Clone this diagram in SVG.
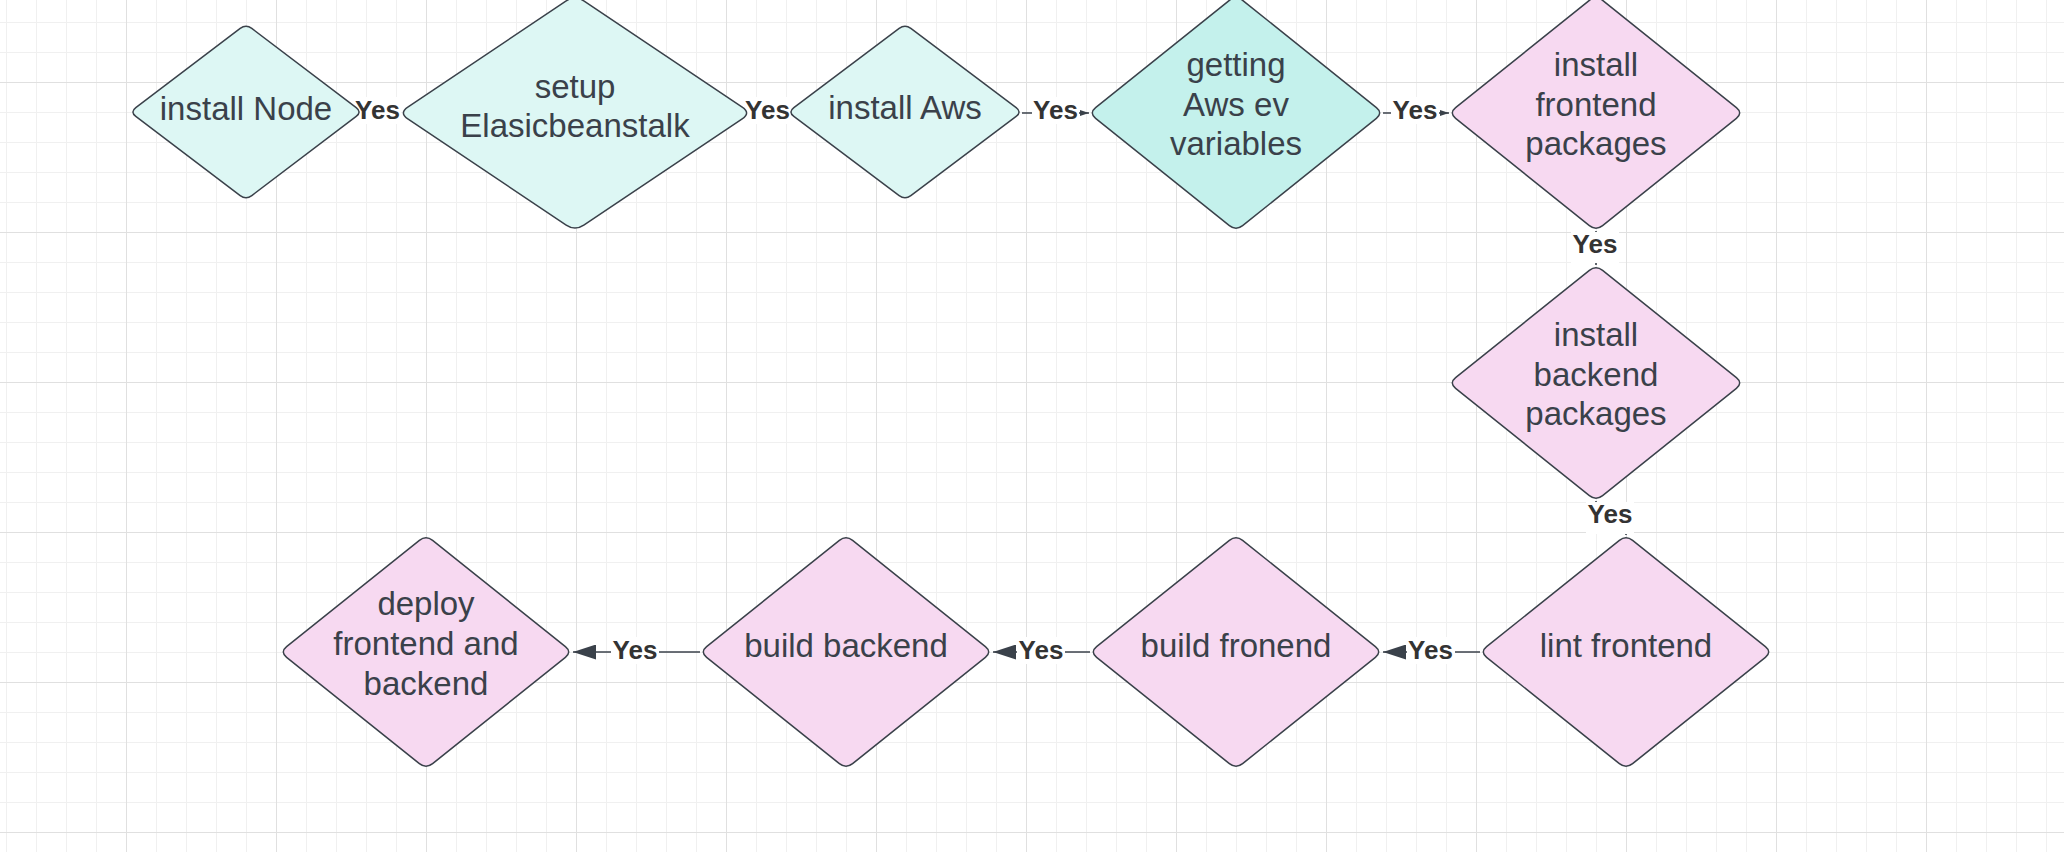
<svg xmlns="http://www.w3.org/2000/svg" width="2064" height="852" viewBox="0 0 2064 852">
<style>
.node{stroke:#3a414a;stroke-width:1.5;stroke-linejoin:round}
.teal{fill:#ddf7f4}
.teal2{fill:#c4f1ec}
.pink{fill:#f7d9f1}
.nt{font-family:"Liberation Sans",Arial,sans-serif;font-size:33px;fill:#3a414a;text-anchor:middle}
.conn{fill:none;stroke:#3a414a;stroke-width:1.6}
.lbg{fill:#ffffff}
.lbl{font-family:"Liberation Sans",Arial,sans-serif;font-size:26px;font-weight:bold;fill:#333333;text-anchor:middle}
</style>
<defs>
<pattern id="minor" x="6" y="22" width="30" height="30" patternUnits="userSpaceOnUse"><path d="M0.5 0V30M0 0.5H30" stroke="#f0f0f0" stroke-width="1" fill="none"/></pattern>
<pattern id="major" x="126" y="82" width="150" height="150" patternUnits="userSpaceOnUse"><path d="M0.5 0V150M0 0.5H150" stroke="#e0e0e0" stroke-width="1" fill="none"/></pattern>
<marker id="arrS" markerUnits="userSpaceOnUse" markerWidth="9" markerHeight="6" refX="9" refY="3" orient="auto"><path d="M0,0 L9,3 L0,6 Z" fill="#3a414a"/></marker>
<marker id="arrL" markerUnits="userSpaceOnUse" markerWidth="23" markerHeight="15" refX="23" refY="7.5" orient="auto"><path d="M0,0 L23,7.5 L0,15 Z" fill="#3a414a"/></marker>
</defs>
<rect width="2064" height="852" fill="#ffffff"/>
<rect width="2064" height="852" fill="url(#minor)"/>
<rect width="2064" height="852" fill="url(#major)"/>

<g id="connectors">
<path class="conn" d="M362,112 L399,113" marker-end="url(#arrS)"/>
<path class="conn" d="M751,113 L788,112" marker-end="url(#arrS)"/>
<path class="conn" d="M1022,113 L1089,113" marker-end="url(#arrS)"/>
<path class="conn" d="M1383,113 L1449,113" marker-end="url(#arrS)"/>
<path class="conn" d="M1596,231 L1596,265"/>
<path class="conn" d="M1596,501 L1596,515 L1626,515 L1626,535"/>
<path class="conn" d="M1480,652 L1383,652" marker-end="url(#arrL)"/>
<path class="conn" d="M1090,652 L993,652" marker-end="url(#arrL)"/>
<path class="conn" d="M700,652 L573,652" marker-end="url(#arrL)"/>
<g id="labels">
<rect class="lbg" x="354" y="97" width="47" height="27"/><text class="lbl" x="377.5" y="118.5">Yes</text>
<rect class="lbg" x="744" y="97" width="47" height="27"/><text class="lbl" x="767.5" y="118.5">Yes</text>
<rect class="lbg" x="1032" y="97" width="47" height="27"/><text class="lbl" x="1055.5" y="118.5">Yes</text>
<rect class="lbg" x="1391" y="97" width="48" height="27"/><text class="lbl" x="1415" y="118.5">Yes</text>
<rect class="lbg" x="1571" y="232" width="48" height="31"/><text class="lbl" x="1595" y="253">Yes</text>
<rect class="lbg" x="1586" y="502" width="48" height="32"/><text class="lbl" x="1610" y="523">Yes</text>
<rect class="lbg" x="1407" y="637" width="48" height="27"/><text class="lbl" x="1430.5" y="659">Yes</text>
<rect class="lbg" x="1017" y="637" width="48" height="27"/><text class="lbl" x="1041" y="659">Yes</text>
<rect class="lbg" x="611" y="637" width="48" height="27"/><text class="lbl" x="635" y="659">Yes</text>
</g>
</g>

<g id="install-node">
<path class="node teal" d="M251.8,28.4 L356.2,107.6 Q362,112 356.2,116.4 L251.8,195.6 Q246,200 240.2,195.6 L135.8,116.4 Q130,112 135.8,107.6 L240.2,28.4 Q246,24 251.8,28.4 Z"/>
<text class="nt" x="246" y="119.5">install Node</text>
</g>
<g id="setup-eb">
<path class="node teal" d="M583.8,0.9 L742.2,107.1 Q751,113 742.2,118.9 L583.8,225.1 Q575,231 566.2,225.1 L407.8,118.9 Q399,113 407.8,107.1 L566.2,0.9 Q575,-5 583.8,0.9 Z"/>
<text class="nt" x="575" y="98">setup</text>
<text class="nt" x="575" y="137">Elasicbeanstalk</text>
</g>
<g id="install-aws">
<path class="node teal" d="M910.85,28.4 L1016.15,107.6 Q1022,112 1016.15,116.4 L910.85,195.6 Q905,200 899.15,195.6 L793.85,116.4 Q788,112 793.85,107.6 L899.15,28.4 Q905,24 910.85,28.4 Z"/>
<text class="nt" x="905" y="118.5">install Aws</text>
</g>
<g id="getting-aws-env">
<path class="node teal2" d="M1242.6,0.3 L1376.4,107.7 Q1383,113 1376.4,118.3 L1242.6,225.7 Q1236,231 1229.4,225.7 L1095.6,118.3 Q1089,113 1095.6,107.7 L1229.4,0.3 Q1236,-5 1242.6,0.3 Z"/>
<text class="nt" x="1236" y="76">getting</text>
<text class="nt" x="1236" y="115.5">Aws ev</text>
<text class="nt" x="1236" y="155">variables</text>
</g>
<g id="install-frontend">
<path class="node pink" d="M1602.6,0.3 L1736.4,107.7 Q1743,113 1736.4,118.3 L1602.6,225.7 Q1596,231 1589.4,225.7 L1455.6,118.3 Q1449,113 1455.6,107.7 L1589.4,0.3 Q1596,-5 1602.6,0.3 Z"/>
<text class="nt" x="1596" y="76">install</text>
<text class="nt" x="1596" y="115.5">frontend</text>
<text class="nt" x="1596" y="155">packages</text>
</g>
<g id="install-backend">
<path class="node pink" d="M1602.6,270.3 L1736.4,377.7 Q1743,383 1736.4,388.3 L1602.6,495.7 Q1596,501 1589.4,495.7 L1455.6,388.3 Q1449,383 1455.6,377.7 L1589.4,270.3 Q1596,265 1602.6,270.3 Z"/>
<text class="nt" x="1596" y="346">install</text>
<text class="nt" x="1596" y="385.5">backend</text>
<text class="nt" x="1596" y="425">packages</text>
</g>
<g id="lint-frontend">
<path class="node pink" d="M1632.6,540.3 L1765.4,646.7 Q1772,652 1765.4,657.3 L1632.6,763.7 Q1626,769 1619.4,763.7 L1486.6,657.3 Q1480,652 1486.6,646.7 L1619.4,540.3 Q1626,535 1632.6,540.3 Z"/>
<text class="nt" x="1626" y="656.5">lint frontend</text>
</g>
<g id="build-fronend">
<path class="node pink" d="M1242.6,540.3 L1375.4,646.7 Q1382,652 1375.4,657.3 L1242.6,763.7 Q1236,769 1229.4,763.7 L1096.6,657.3 Q1090,652 1096.6,646.7 L1229.4,540.3 Q1236,535 1242.6,540.3 Z"/>
<text class="nt" x="1236" y="656.5">build fronend</text>
</g>
<g id="build-backend">
<path class="node pink" d="M852.6,540.3 L985.4,646.7 Q992,652 985.4,657.3 L852.6,763.7 Q846,769 839.4,763.7 L706.6,657.3 Q700,652 706.6,646.7 L839.4,540.3 Q846,535 852.6,540.3 Z"/>
<text class="nt" x="846" y="656.5">build backend</text>
</g>
<g id="deploy">
<path class="node pink" d="M432.6,540.3 L565.4,646.7 Q572,652 565.4,657.3 L432.6,763.7 Q426,769 419.4,763.7 L286.6,657.3 Q280,652 286.6,646.7 L419.4,540.3 Q426,535 432.6,540.3 Z"/>
<text class="nt" x="426" y="615">deploy</text>
<text class="nt" x="426" y="655">frontend and</text>
<text class="nt" x="426" y="695">backend</text>
</g>
</svg>
